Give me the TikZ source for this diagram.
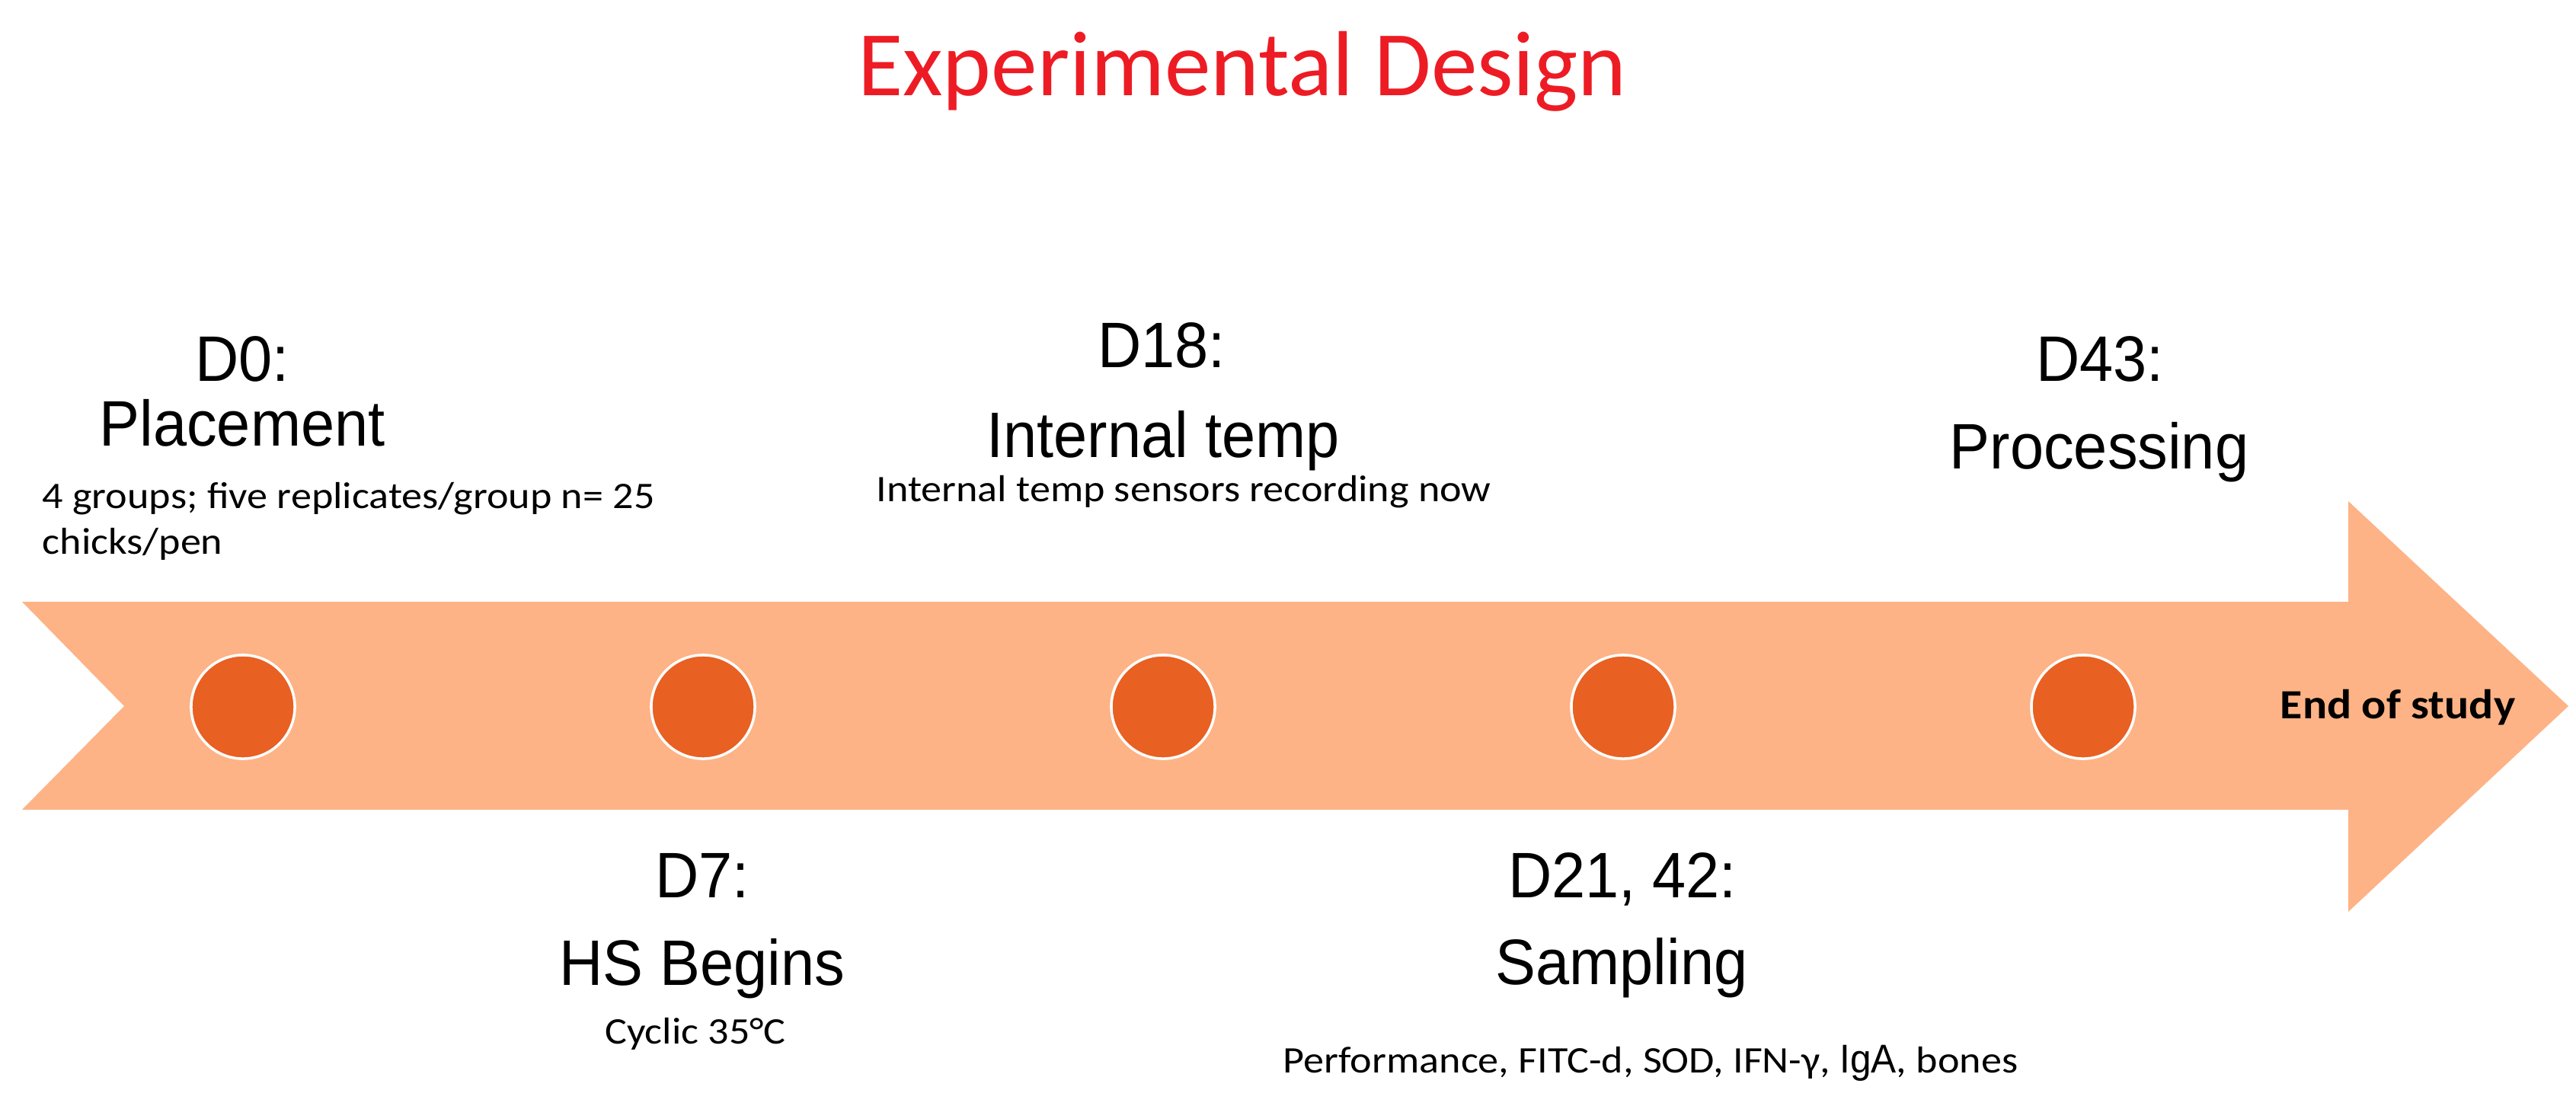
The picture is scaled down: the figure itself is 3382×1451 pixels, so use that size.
\documentclass[tikz,border=0pt]{standalone}
\usepackage{fontspec}
\setmainfont{Liberation Sans}
\newfontfamily\hfont[FakeStretch=0.94]{Liberation Sans}
\newfontfamily\cfont[FakeStretch=1.1]{Carlito}
\newfontfamily\tfont{Carlito}
\definecolor{arrowc}{RGB}{253,179,134}
\definecolor{dotc}{RGB}{232,96,34}
\definecolor{titlec}{RGB}{237,28,36}
\begin{document}
\begin{tikzpicture}[x=0.01cm,y=-0.01cm,
  head/.style={font=\hfont\fontsize{24}{28}\selectfont, inner sep=0pt, anchor=base},
  small/.style={font=\cfont\fontsize{14}{17}\selectfont, inner sep=0pt, anchor=base},
  dot/.style={circle, fill=dotc, draw=white, line width=1pt, minimum size=1.36cm, inner sep=0pt}]
\useasboundingbox[fill=white] (0,0) rectangle (3382,1451);

% title
\node[font=\tfont\fontsize{34.5}{40}\selectfont, text=titlec, inner sep=0pt, anchor=base] (title) at (1631,125) {Experimental Design};

% arrow
\fill[arrowc] (29,790) -- (3083,790) -- (3083,658) -- (3372,927) -- (3083,1197)
  -- (3083,1063) -- (29,1063) -- (163,927) -- cycle;

% dots
\node[dot] (c1) at (319,928) {};
\node[dot] (c2) at (923,928) {};
\node[dot] (c3) at (1527,928) {};
\node[dot] (c4) at (2131,928) {};
\node[dot] (c5) at (2735,928) {};

\node[font=\cfont\bfseries\fontsize{15.5}{18}\selectfont, inner sep=0pt, anchor=base west] (end) at (2993,943) {End of study};

% D0
\node[head] (d0) at (318,500) {D0:};
\node[head] (d0b) at (318,585) {Placement};
\node[small, anchor=base west] (d0c) at (55,667) {4 groups; five replicates/group n= 25};
\node[small, anchor=base west] (d0d) at (55,727) {chicks/pen};

% D7
\node[head] (d7) at (922,1178) {D7:};
\node[head] (d7b) at (922,1293) {HS Begins};
\node[small] (d7c) at (913,1370) {Cyclic 35°C};

% D18
\node[head] (d18) at (1525,482) {D18:};
\node[head] (d18b) at (1527,600) {Internal temp};
\node[small] (d18c) at (1554,658) {Internal temp sensors recording now};

% D21, 42
\node[head] (d21) at (2130,1178) {D21, 42:};
\node[head] (d21b) at (2129,1292) {Sampling};
\node[small] (d21c) at (2167,1408) {Performance, FITC-d, SOD, IFN-γ, {\hfont\fontsize{15}{17}\selectfont IgA}, bones};

% D43
\node[head] (d43) at (2757,500) {D43:};
\node[head] (d43b) at (2756,615) {Processing};
\end{tikzpicture}
\end{document}
